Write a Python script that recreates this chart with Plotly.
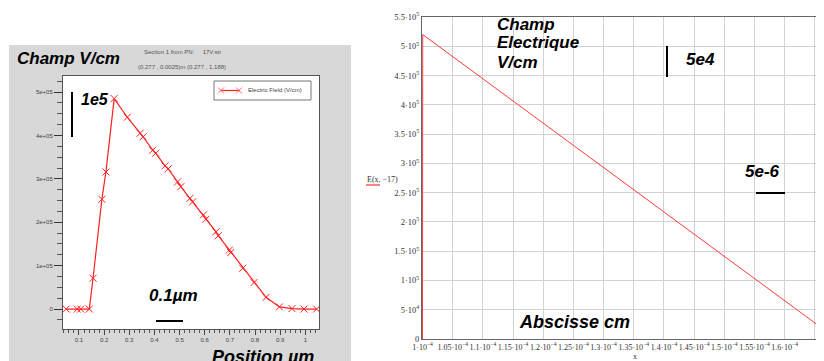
import plotly.graph_objects as go

# The page body keeps an 8 px margin, so the figure is placed at (8, 8) of the window.
OFF = 8
WIN_W, WIN_H = 824, 361
W, H = WIN_W - OFF, WIN_H - OFF

# ---------------- data ----------------
# Left panel: electric field along section (position in µm, field in V/cm)
pos_um = [0.049, 0.093, 0.107, 0.141, 0.156, 0.191, 0.207, 0.240, 0.292, 0.343, 0.355,
          0.393, 0.405, 0.442, 0.455, 0.492, 0.505, 0.541, 0.552, 0.595, 0.605, 0.645,
          0.654, 0.698, 0.703, 0.751, 0.796, 0.844, 0.897, 0.947, 0.995, 1.045]
field_vcm = [0, 0, 0, 0, 0.71e5, 2.53e5, 3.16e5, 4.85e5, 4.42e5, 4.05e5, 3.97e5,
             3.66e5, 3.59e5, 3.30e5, 3.23e5, 2.93e5, 2.82e5, 2.55e5, 2.47e5, 2.17e5, 2.07e5, 1.78e5,
             1.69e5, 1.36e5, 1.30e5, 0.94e5, 0.61e5, 0.27e5, 0.05e5, 0.01e5, 0, 0]

# Right panel: analytic field E(x, -17) (x in cm, E in V/cm)
x_cm = [0.9999e-4, 1.0000e-4, 1.0003e-4, 1.6652e-4]
E_x = [0, 4.5e5, 5.2e5, 1.6e4]

left_xticks = [0.1, 0.2, 0.3, 0.4, 0.5, 0.6, 0.7, 0.8, 0.9, 1.0]
left_xticktext = ["0.1", "0.2", "0.3", "0.4", "0.5", "0.6", "0.7", "0.8", "0.9", "1"]
left_yticks = [0, 1e5, 2e5, 3e5, 4e5, 5e5]
left_yticktext = ["0", "1e+05", "2e+05", "3e+05", "4e+05", "5e+05"]

right_xmant = ["1", "1.05", "1.1", "1.15", "1.2", "1.25", "1.3", "1.35", "1.4", "1.45",
               "1.5", "1.55", "1.6", "1.65"]
right_xticks = [float(m) * 1e-4 for m in right_xmant]
right_xticktext = [m + "·10<sup>−4</sup>" for m in right_xmant]
right_yticks = [0, 5e4, 1e5, 1.5e5, 2e5, 2.5e5, 3e5, 3.5e5, 4e5, 4.5e5, 5e5, 5.5e5]
right_yticktext = ["0", "5·10<sup>4</sup>", "1·10<sup>5</sup>", "1.5·10<sup>5</sup>",
                   "2·10<sup>5</sup>", "2.5·10<sup>5</sup>", "3·10<sup>5</sup>",
                   "3.5·10<sup>5</sup>", "4·10<sup>5</sup>", "4.5·10<sup>5</sup>",
                   "5·10<sup>5</sup>", "5.5·10<sup>5</sup>"]


def px(x):
    return (x - OFF) / W


def py(y):
    return 1 - (y - OFF) / H


fig = go.Figure()
fig.add_trace(go.Scatter(
    x=pos_um, y=field_vcm, mode="lines+markers", name="Electric Field (V/cm)",
    line=dict(color="#ff2020", width=1.2),
    marker=dict(symbol="x-thin-open", size=7, line=dict(color="#ff6a6a", width=1)),
    xaxis="x", yaxis="y", showlegend=False))
fig.add_trace(go.Scatter(
    x=x_cm, y=E_x, mode="lines", line=dict(color="#ff3a3a", width=1),
    xaxis="x2", yaxis="y2", showlegend=False))

SANS = "Liberation Sans, Arial, sans-serif"
SERIF = "Liberation Serif, Times New Roman, serif"

fig.update_layout(
    width=W, height=H, margin=dict(l=0, r=0, t=0, b=0, autoexpand=False),
    paper_bgcolor="white", plot_bgcolor="rgba(0,0,0,0)",
    xaxis=dict(domain=[px(63), px(319)], range=[0.0364, 1.0545], anchor="y", automargin=False,
               tickvals=left_xticks, ticktext=left_xticktext, tickangle=0,
               ticks="outside", ticklen=5, tickcolor="#444",
               tickfont=dict(family=SANS, size=6, color="#444"),
               showline=True, linecolor="#555", linewidth=1, mirror=True,
               showgrid=False, zeroline=False,
               minor=dict(dtick=0.02, tick0=0, ticks="outside", ticklen=3, tickcolor="#555", showgrid=False)),
    yaxis=dict(domain=[py(329), py(76)], range=[-0.46e5, 5.37e5], anchor="x", automargin=False,
               tickvals=left_yticks, ticktext=left_yticktext,
               ticks="outside", ticklen=8, tickcolor="#333",
               tickfont=dict(family=SANS, size=6, color="#444"),
               showline=True, linecolor="#555", linewidth=1, mirror=True,
               showgrid=False, zeroline=False,
               minor=dict(dtick=25000, tick0=0, ticks="outside", ticklen=5, tickcolor="#555", showgrid=False)),
    xaxis2=dict(domain=[px(422), 1.0], range=[0.9991e-4, 1.6652e-4], anchor="y2", automargin=False,
                tickvals=right_xticks, ticktext=right_xticktext, ticks="", tickangle=0,
                tickfont=dict(family=SERIF, size=8, color="#333"),
                showline=True, linecolor="#666", linewidth=1, mirror=True,
                showgrid=True, gridcolor="#d2d2d2", gridwidth=1, zeroline=False),
    yaxis2=dict(domain=[py(339), py(17)], range=[0, 5.5e5], anchor="x2", automargin=False,
                tickvals=right_yticks, ticktext=right_yticktext, ticks="",
                tickfont=dict(family=SERIF, size=8.5, color="#333"),
                showline=True, linecolor="#666", linewidth=1, mirror=False,
                showgrid=True, gridcolor="#d2d2d2", gridwidth=1, zeroline=False),
    showlegend=False,
)

shapes = [
    dict(type="rect", xref="paper", yref="paper", x0=px(9), x1=px(351), y0=0, y1=py(45),
         fillcolor="#d8d8d8", line=dict(width=0), layer="below"),
    dict(type="rect", xref="paper", yref="paper", x0=px(63), x1=px(319), y0=py(329), y1=py(76),
         fillcolor="white", line=dict(width=0), layer="below"),
    # legend box of the left panel
    dict(type="rect", xref="paper", yref="paper", x0=px(214), x1=px(311), y0=py(100), y1=py(81),
         fillcolor="white", line=dict(color="#777", width=1)),
]


def seg(x0, y0, x1, y1, color="black", width=2):
    shapes.append(dict(type="line", xref="paper", yref="paper",
                       x0=px(x0), y0=py(y0), x1=px(x1), y1=py(y1),
                       line=dict(color=color, width=width)))


# legend sample: red line with two x markers
seg(220, 90.5, 240, 90.5, color="#ff2020", width=1.2)
for cx in (221, 239):
    seg(cx - 3, 87.5, cx + 3, 93.5, color="#ff6a6a", width=1)
    seg(cx - 3, 93.5, cx + 3, 87.5, color="#ff6a6a", width=1)

seg(72, 92, 72, 137)
seg(156, 321, 183, 321)
seg(667, 46, 667, 77)
seg(756, 193, 785, 193)
seg(366, 185, 380, 185, color="#ff5a5a", width=1.5)
fig.update_layout(shapes=shapes)

annots = []


def ann(text, x, y, size, xanchor="left", yanchor="middle", family=SANS, color="black"):
    annots.append(dict(text=text, x=px(x), y=py(y), xref="paper", yref="paper",
                       xanchor=xanchor, yanchor=yanchor, showarrow=False, borderpad=0,
                       font=dict(family=family, size=size, color=color)))


ann("Electric Field (V/cm)", 247, 90.5, 6, color="#444")
ann("<b><i>Champ V/cm</i></b>", 16, 58, 17)
ann("Section 1 from PN:     17V.str", 143, 52, 6, color="#555")
ann("(0.277 , 0.0025)m (0.277 , 1.188)", 137, 67, 6, color="#555")
ann("<b><i>1e5</i></b>", 80, 100, 16)
ann("<b><i>0.1µm</i></b>", 148, 295, 17)
ann("<b><i>Position µm</i></b>", 211, 346, 18, yanchor="top")
ann("<b><i>Champ</i></b>", 496, 24, 17)
ann("<b><i>Electrique</i></b>", 496, 43, 17)
ann("<b><i>V/cm</i></b>", 496, 62, 17)
ann("<b><i>5e4</i></b>", 685, 59, 17)
ann("<b><i>5e-6</i></b>", 744, 171, 17)
ann("<b><i>Abscisse cm</i></b>", 518, 322, 18)
ann("E(x, −17)", 366, 179, 8, family=SERIF, color="#333")
ann("x", 635, 356, 8, xanchor="center", family=SERIF, color="#333")
fig.update_layout(annotations=annots)

fig.write_html("out.html")
